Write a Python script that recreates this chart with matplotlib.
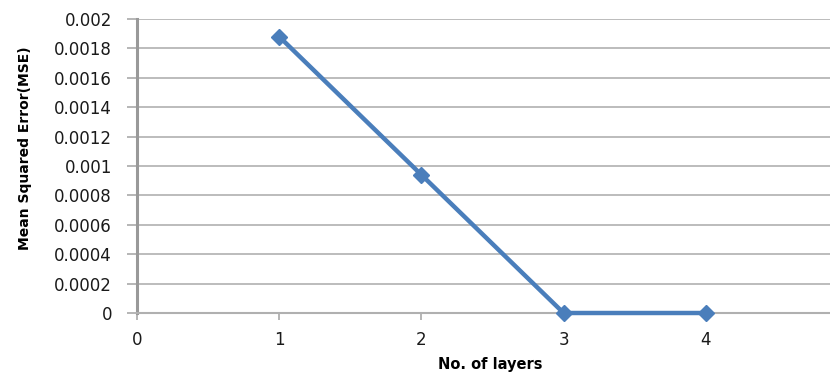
import numpy as np
import matplotlib.pyplot as plt

# number of layers vs mean squared error
layers = [1, 2, 3, 4]
mse = [0.00188, 0.00094, 0.0, 0.0]

y_ticks = [0, 0.0002, 0.0004, 0.0006, 0.0008, 0.001, 0.0012, 0.0014, 0.0016, 0.0018, 0.002]
y_labels = ['0', '0.0002', '0.0004', '0.0006', '0.0008', '0.001', '0.0012',
            '0.0014', '0.0016', '0.0018', '0.002']
x_ticks = [0, 1, 2, 3, 4, 5]

W, H = 830, 374
fig = plt.figure(figsize=(W / 100, H / 100), dpi=100)
# axes run off the right edge of the picture, like the cropped original
x0, x1 = 137, 848
ax = fig.add_axes([x0 / W, (H - 313) / H, (x1 - x0) / W, (313 - 19) / H])

grid_c = '#b0b0b0'
ax.set_xlim(0, 5)
ax.set_ylim(0, 0.002)
ax.set_yticks(y_ticks)
ax.set_yticklabels(y_labels)
ax.set_xticks(x_ticks)
ax.yaxis.grid(True, color=grid_c, lw=1.2)
ax.set_axisbelow(True)

for s in ['top', 'right']:
    ax.spines[s].set_visible(False)
ax.spines['left'].set_color('#999999')
ax.spines['left'].set_linewidth(2.2)
ax.spines['bottom'].set_color(grid_c)
ax.spines['bottom'].set_linewidth(1.5)

ax.tick_params(axis='y', length=7, width=1.3, color=grid_c, pad=11,
               labelsize=12, labelcolor='#1a1a1a')
ax.tick_params(axis='x', length=5, width=1.3, color=grid_c, pad=8,
               labelsize=12, labelcolor='#1a1a1a')

ax.plot(layers, mse, color='#4a7ebb', lw=3.2, marker='D', ms=8,
        clip_on=False, zorder=3)

ax.set_ylabel('Mean Squared Error(MSE)', fontsize=10, fontweight='bold')
ax.set_xlabel('No. of layers', fontsize=10.5, fontweight='bold')
ax.xaxis.set_label_coords((490 - x0) / (x1 - x0), -0.15)
ax.yaxis.set_label_coords(-(x0 - 32) / (x1 - x0), 0.56)

fig.savefig('out.png', dpi=100)
